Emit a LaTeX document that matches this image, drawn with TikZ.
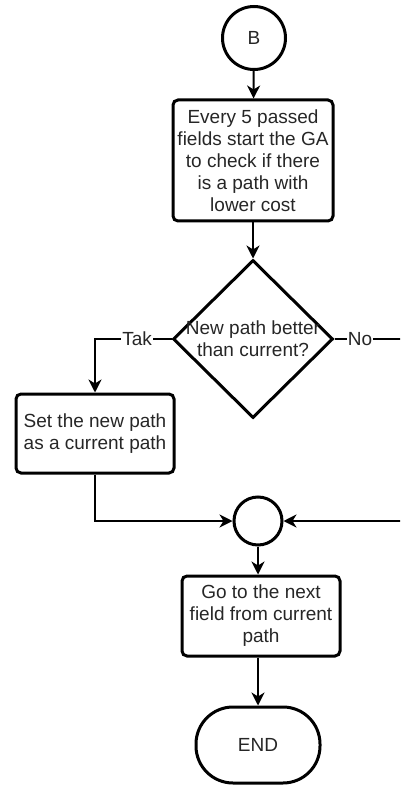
\documentclass[tikz,border=0pt]{standalone}
\usepackage{fontspec}
\setmainfont{Liberation Sans}
\usetikzlibrary{arrows.meta,shapes.geometric}
\begin{document}
\begin{tikzpicture}[x=1pt,y=-1pt,
  every node/.style={font=\fontsize{19}{22}\selectfont, text=black!85},
  boxnode/.style={draw, line width=3pt, rounded corners=5pt, align=center, inner sep=0pt},
  circnode/.style={draw, circle, line width=3pt, inner sep=0pt},
  decnode/.style={draw, diamond, line width=3pt, inner sep=0pt},
  termnode/.style={draw, line width=3pt, rounded corners=37pt, inner sep=0pt},
  conn/.style={line width=2pt, -{Stealth[length=13pt,width=13pt,inset=4pt]}},
  lbl/.style={fill=white, inner sep=1pt}]
\useasboundingbox (0,0) rectangle (400,786);
\clip (0,0) rectangle (400,786);
\node[circnode, minimum size=63pt] (b) at (254,38) {B};
\node[boxnode, minimum width=160pt, minimum height=121pt] (ga) at (253,160.5)
  {Every 5 passed\\fields start the GA\\to check if there\\is a path with\\lower cost};
\node[decnode, minimum width=160pt, minimum height=158pt] (dec) at (253,339) {};
\node[align=center, inner sep=0pt] (dectext) at (dec.center) {New path better\\than current?};
\node[boxnode, minimum width=158pt, minimum height=79pt] (set) at (95,433.5)
  {Set the new path\\as a current path};
\node[circnode, minimum size=48pt] (join) at (258,521) {};
\node[boxnode, minimum width=158pt, minimum height=80pt] (go) at (261,616)
  {Go to the next\\field from current\\path};
\node[termnode, minimum width=124pt, minimum height=76pt] (end) at (258,745) {END};
\coordinate (rt) at (412,339);
\draw[conn] (b) -- (ga);
\draw[conn] (ga.south -| dec.north) -- (dec.north);
\draw[conn] (dec.west) -- node[lbl, pos=0.45] {Tak} (set.north |- dec.west) -- (set.north);
\draw[conn] (dec.east) -- node[lbl, pos=0.33] {No} (rt) |- (join.east);
\draw[conn] (set.south) |- (join.west);
\draw[conn] (join.south) -- (join.south |- go.north);
\draw[conn] (go.south -| end.north) -- (end.north);
\end{tikzpicture}
\end{document}
